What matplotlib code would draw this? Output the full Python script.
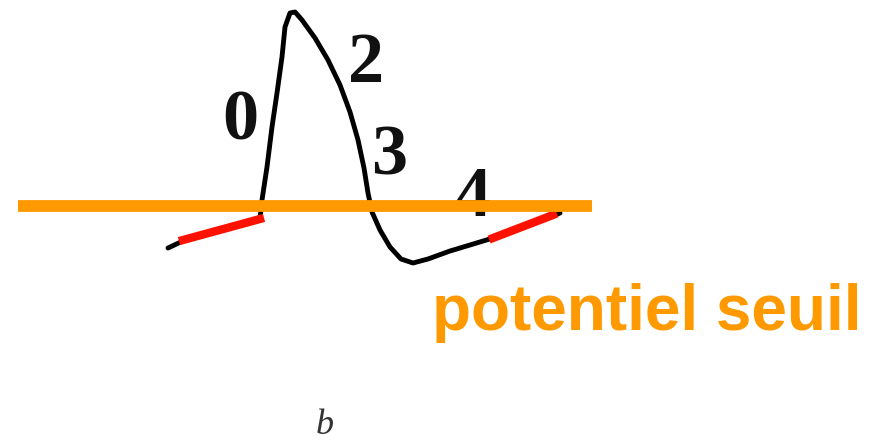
import matplotlib.pyplot as plt

# traced membrane potential (pixel space, y grows downward)
trace_x = [168, 185, 210, 235, 260, 262, 267, 272, 277, 282, 285, 290, 295,
           302, 315, 328, 340, 350, 358, 364, 368, 372, 380, 390, 401, 413,
           428, 450, 470, 493, 520, 553, 560]
trace_y = [248, 240, 233, 226, 219, 200, 167, 127, 93, 57, 27, 13, 12,
           20, 38, 60, 85, 112, 140, 168, 193, 212, 230, 247, 259, 263,
           259, 251, 245, 238, 228, 216, 213]

# slow depolarisation segments drawn in red
ramp1_x = [183, 260]
ramp1_y = [240, 219]
ramp2_x = [493, 553]
ramp2_y = [238, 215]

threshold_y = 206
threshold_x = [18, 592]

phases = ["0", "2", "3", "4"]
phase_x = [240, 366, 389, 473]
phase_y = [122, 64, 157, 199]

orange = "#ff9900"

fig = plt.figure(figsize=(8.75, 4.46), dpi=100)
ax = fig.add_axes([0, 0, 1, 1])
ax.set_xlim(0, 875)
ax.set_ylim(446, 0)
ax.axis("off")

ax.plot(trace_x, trace_y, color="black", lw=3.5, solid_capstyle="round",
        solid_joinstyle="round", zorder=2)
ax.plot(ramp1_x, ramp1_y, color="#ff1100", lw=6, zorder=3)
ax.plot(ramp2_x, ramp2_y, color="#ff1100", lw=6, zorder=3)
ax.plot(threshold_x, [threshold_y, threshold_y], color=orange, lw=8.5,
        solid_capstyle="butt", zorder=4)

for lab, x, y in zip(phases, phase_x, phase_y):
    ax.text(x, y, lab, fontsize=52, fontweight="bold", family="Liberation Serif",
            ha="center", va="center", color="#111111", zorder=1)

ax.text(432, 330, "potentiel seuil", fontsize=46, fontweight="bold",
        family="Liberation Sans", color=orange, ha="left", va="baseline")
ax.text(325, 425, "b", fontsize=26, style="italic", family="Liberation Serif",
        color="#333333", ha="center", va="center")

fig.savefig("out.png", dpi=100)
